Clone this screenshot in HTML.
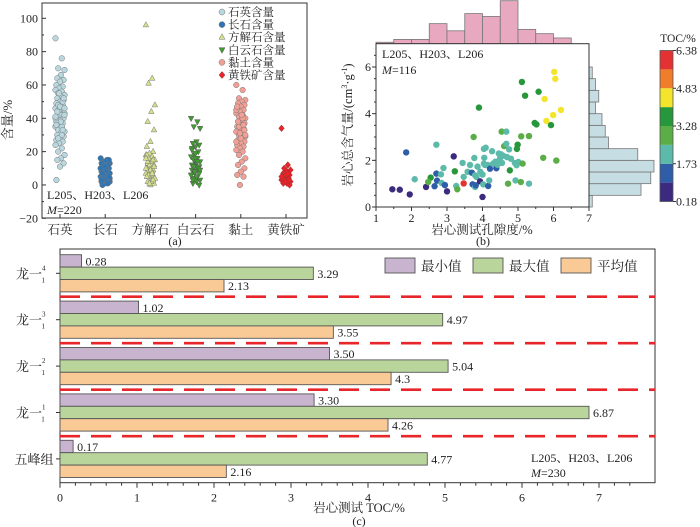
<!DOCTYPE html>
<html><head><meta charset="utf-8"><style>
html,body{margin:0;padding:0;background:#fff;}
svg{display:block;font-family:"Liberation Serif","Noto Serif CJK SC",serif;}
</style></head><body>
<svg id="fig" width="700" height="527" viewBox="0 0 700 527" xmlns="http://www.w3.org/2000/svg">
<g id="pa"></g>
<g id="pb"></g>
<g id="pc"></g>
</svg>
<script>
// ---------- Panel (a) data ----------
const aCategories = ["石英","长石","方解石","白云石","黏土","黄铁矿"];
const aLegend = ["石英含量","长石含量","方解石含量","白云石含量","黏土含量","黄铁矿含量"];
const aQuartz = [88,76,70,69,66,64,63,62,60,59,58,57,56,55,54,53,52,51,50,49,48,47,46,45,44,43,42,41,40,39,38,37,36,35,34,33,32,31,30,29,28,27,26,25,24,22,20,18,16,15,13,11,3,50,45,40,35,48,42,38,44,52,47,36,33,55,41,30,28,46];
const aFeldspar = [16,15,14,13,12,11,10,9,8,7,6,5,4,3,2,1,0,15,14,13,12,11,10,9,8,7,6,5,4,3,2,1,12,10,8,6,4,9,7,5,11,3];
const aCalcite = [96,64,61,48,44,38,33,26,23,20,19,18,17,16,15,14,13,12,11,10,9,8,7,6,5,4,3,2,1,0,18,15,12,10,8,6,4,2,14,11,9,5,3,1,16,7];
const aDolomite = [40,38,35,34,26,25,24,23,22,20,18,17,16,15,14,13,12,11,10,9,8,7,6,5,4,3,2,1,0,16,12,10,8,6,14,11,9,5,3,7,19,21];
const aClay = [60,57,52,51,50,49,48,47,46,45,44,43,42,41,40,39,38,37,36,35,34,33,32,31,30,29,28,27,26,25,24,23,22,21,20,18,16,14,12,10,8,6,5,0,45,40,35,30,42,38,33,28,47,36,31,26];
const aPyrite = [34,12,10,9,8,7,6,5,5,4,4,3,3,2,2,1,1,0,6,4,3,2,5,7];
const aYTicks = [100,80,60,40,20,0,-20];
// ---------- Panel (b) data ----------
const bPorosity = [1.46,1.67,1.95,1.85,2.09,2.41,2.54,2.47,2.65,2.70,2.70,2.72,2.83,2.85,2.90,2.94,3.00,3.19,3.22,3.26,3.29,3.47,3.44,3.47,3.58,3.65,3.70,3.72,3.75,3.77,3.79,3.79,3.81,3.83,3.86,3.90,3.93,3.94,4.00,4.00,4.02,4.04,4.05,4.04,4.09,4.07,4.15,4.16,4.19,4.21,4.27,4.30,4.36,4.39,4.42,4.46,4.49,4.52,4.54,4.55,4.58,4.61,4.67,4.67,4.69,4.72,4.75,4.77,4.80,4.91,4.93,4.96,4.97,4.99,5.01,5.09,5.08,5.11,5.13,5.20,5.31,5.31,5.47,5.52,5.58,5.71,5.75,5.80,5.93,5.99,6.02,6.05,6.08,6.21];
const bGas = [0.76,0.74,0.54,2.34,1.19,0.86,1.26,1.07,0.89,1.43,2.67,1.13,1.40,1.03,1.67,0.94,0.67,2.17,1.53,0.90,0.76,1.01,1.89,1.29,1.51,1.80,1.47,0.97,3.00,2.10,0.86,1.36,0.93,1.29,1.73,4.26,1.10,1.51,0.43,1.39,0.97,1.86,2.11,2.49,2.54,1.80,1.80,0.90,1.14,1.64,2.39,1.86,1.94,1.66,1.81,2.29,2.06,2.26,3.23,1.89,2.20,2.61,3.23,2.71,2.14,1.00,2.47,1.57,2.07,1.89,1.14,1.79,2.49,2.67,1.93,3.03,1.07,5.36,1.86,4.77,3.04,1.00,3.60,3.54,4.94,2.11,4.63,3.69,3.51,3.94,5.79,5.49,1.99,4.16];
const bToc = [0.5,0.5,0.5,1.3,2.1,0.5,3.6,2.9,1.3,1.3,2.1,1.3,2.1,2.1,2.1,1.3,0.5,0.5,3.6,2.1,2.9,6.0,2.1,2.1,2.1,2.1,1.3,1.3,2.9,2.1,2.1,2.1,1.3,2.1,2.1,3.6,0.5,2.1,0.5,2.1,2.1,2.1,2.1,2.1,2.1,2.1,2.1,1.3,2.1,1.3,2.1,2.1,2.1,1.3,2.1,2.1,2.1,2.1,2.9,2.1,2.1,2.9,2.1,2.1,2.1,2.9,2.1,3.6,2.1,2.1,2.1,2.1,3.6,3.6,2.1,2.9,2.9,3.6,2.9,3.6,2.9,2.1,3.6,3.6,3.6,2.9,4.5,4.5,3.6,4.5,4.5,4.5,2.9,4.5];
const bTopCounts = [1,3,3,14,9,21,19,30,10,7,4];
const bRightCounts = [1,16,19,20,15,6,5,4,2,3,2,1];
const bXTicks = [1,2,3,4,5,6,7];
const bYTicks = [0,2,4,6];
const bCbarTicks = ["0.18","1.73","3.28","4.83","6.38"];
// ---------- Panel (c) data ----------
const cGroups = ["龙一|4","龙一|3","龙一|2","龙一|1","五峰组"];
const cMin = [0.28,1.02,3.50,3.30,0.17];
const cMax = [3.29,4.97,5.04,6.87,4.77];
const cAvg = [2.13,3.55,4.3,4.26,2.16];
const cMinLbl = ["0.28","1.02","3.50","3.30","0.17"];
const cMaxLbl = ["3.29","4.97","5.04","6.87","4.77"];
const cAvgLbl = ["2.13","3.55","4.3","4.26","2.16"];
const cXTicks = [0,1,2,3,4,5,6,7];
const cSeries = ["最小值","最大值","平均值"];

const NS="http://www.w3.org/2000/svg";
function mk(parent,tag,attrs,text){const e=document.createElementNS(NS,tag);for(const k in attrs)e.setAttribute(k,attrs[k]);if(text!==undefined)e.textContent=text;parent.appendChild(e);return e;}

// ================= Panel A =================
(function(){
const g=document.getElementById('pa');
const L=42,T=3,R=307,B=218;
const yA=v=>18.3+(100-v)*(200/120);
const xA=i=>60+i*45.2;
let f=mk(g,'rect',{x:L,y:T,width:R-L,height:B-T,fill:'none',stroke:'#333','stroke-width':1});

aYTicks.forEach(v=>{
 let t=mk(g,'line',{x1:L,x2:L+4,y1:yA(v),y2:yA(v),stroke:'#333'});
 
 let tx=mk(g,'text',{x:L-4,y:yA(v)+4,'text-anchor':'end','font-size':12,fill:'#222'},v<0?'−'+(-v):String(v));
 
});
for(let v=-10;v<100;v+=20){let t=mk(g,'line',{x1:L,x2:L+2,y1:yA(v),y2:yA(v),stroke:'#333'});}
let yt=mk(g,'text',{x:12,y:120,'text-anchor':'middle','font-size':13,fill:'#222',transform:'rotate(-90 12 120)'},'含量/%');

aCategories.forEach((c,i)=>{
 let t=mk(g,'line',{x1:xA(i),x2:xA(i),y1:B,y2:B-4,stroke:'#333'});
 let tx=mk(g,'text',{x:xA(i),y:234,'text-anchor':'middle','font-size':12.5,fill:'#222'},c);
 
});
const sets=[aQuartz,aFeldspar,aCalcite,aDolomite,aClay,aPyrite];
const fills=['#b9d7df','#2e75b6','#d4df8a','#3f9e2e','#f2a095','#e8242a'];
const shapes=['c','c','tu','td','c','d'];
function marker(par,shape,x,y,fill,r){
 let e;
 if(shape==='c')e=mk(par,'circle',{cx:x,cy:y,r:r,fill:fill,stroke:'#777','stroke-width':0.5});
 else if(shape==='tu')e=mk(par,'polygon',{points:`${x},${y-r-0.5} ${x-r},${y+r*0.7} ${x+r},${y+r*0.7}`,fill:fill,stroke:'#777','stroke-width':0.5});
 else if(shape==='td')e=mk(par,'polygon',{points:`${x},${y+r+0.5} ${x-r},${y-r*0.7} ${x+r},${y-r*0.7}`,fill:fill,stroke:'#555','stroke-width':0.5});
 else e=mk(par,'polygon',{points:`${x},${y-r-0.5} ${x+r},${y} ${x},${y+r+0.5} ${x-r},${y}`,fill:fill,stroke:'#933','stroke-width':0.5});
 return e;
}
sets.forEach((arr,si)=>{
 const sg=mk(g,'g',{});
 arr.forEach((v,i)=>{
  const jit=((i*7)%11-5)*0.9;
  let m=marker(sg,shapes[si],xA(si)+jit,yA(v),fills[si],2.8);
  
 });
});
aLegend.forEach((s,i)=>{
 const y=12+i*12.6;
 const lg=mk(g,'g',{});
 marker(lg,shapes[i],222,y,fills[i],3);
 mk(lg,'text',{x:228,y:y+4,'font-size':11.5,fill:'#222'},s);
});
let an1=mk(g,'text',{x:47,y:199,'font-size':12,fill:'#222'},'L205、H203、L206');
let an2=mk(g,'text',{x:47,y:214,'font-size':12,fill:'#222'});
mk(an2,'tspan',{'font-style':'italic'},'M');mk(an2,'tspan',{},'=220');
let pl=mk(g,'text',{x:175,y:245,'text-anchor':'middle','font-size':12,fill:'#222'},'(a)');
})();

// ================= Panel B =================
(function(){
const g=document.getElementById('pb');
const L=376,R=589,T=43.7,B=207;
const xB=v=>L+(v-1)*(R-L)/6;
const yB=v=>B-v*(140/6);
const tpx=43/30;
bTopCounts.forEach((c,i)=>{
 const x0=xB(1+i*0.5),x1=xB(1.5+i*0.5);
 let r=mk(g,'rect',{x:x0,y:T-c*tpx,width:x1-x0,height:c*tpx,fill:'#e8a8c0',stroke:'#777','stroke-width':0.8});
 
});
const rpx=65/20;
bRightCounts.forEach((c,i)=>{
 const y0=yB(0.5+i*0.5),y1=yB(i*0.5);
 let r=mk(g,'rect',{x:R,y:y0,width:c*rpx,height:y1-y0,fill:'#c5dde3',stroke:'#777','stroke-width':0.8});
 
});
let f=mk(g,'rect',{x:L,y:T,width:R-L,height:B-T,fill:'#fff',stroke:'#333','stroke-width':1});

bXTicks.forEach(v=>{
 let t=mk(g,'line',{x1:xB(v),x2:xB(v),y1:B,y2:B+4,stroke:'#333'});
 let tx=mk(g,'text',{x:xB(v),y:B+15,'text-anchor':'middle','font-size':12,fill:'#222'},String(v));
 
});
for(let v=1.5;v<7;v+=1){let t=mk(g,'line',{x1:xB(v),x2:xB(v),y1:B,y2:B+2,stroke:'#333'});}
bYTicks.forEach(v=>{
 let t=mk(g,'line',{x1:L,x2:L-4,y1:yB(v),y2:yB(v),stroke:'#333'});
 let tx=mk(g,'text',{x:L-5,y:yB(v)+4,'text-anchor':'end','font-size':12,fill:'#222'},String(v));
 
});
for(let v=0.5;v<7;v+=0.5){if(v%2===0)continue;let t=mk(g,'line',{x1:L,x2:L-2,y1:yB(v),y2:yB(v),stroke:'#333'});}
const bandCols=['#3b2a7e','#2f5da8','#5bbaa9','#5aad47','#26973a','#f4e52c','#f07d2a','#e43232'];
const col=t=>bandCols[Math.max(0,Math.min(7,Math.floor((t-0.18)/((6.38-0.18)/8))))];
bPorosity.forEach((x,i)=>{
 let c=mk(g,'circle',{cx:xB(x),cy:yB(bGas[i]),r:3.2,fill:col(bToc[i])});
 
});
let yt=mk(g,'text',{x:352,y:125,'text-anchor':'middle','font-size':12.5,fill:'#222',transform:'rotate(-90 352 125)'});

mk(yt,'tspan',{},'岩心总含气量/(cm');mk(yt,'tspan',{'font-size':8,dy:-5},'3');mk(yt,'tspan',{dy:5},'·g');mk(yt,'tspan',{'font-size':8,dy:-5},'-1');mk(yt,'tspan',{dy:5},')');
let xt=mk(g,'text',{x:482,y:234,'text-anchor':'middle','font-size':12.5,fill:'#222'},'岩心测试孔隙度/%');

let an1=mk(g,'text',{x:382,y:58,'font-size':12,fill:'#222'},'L205、H203、L206');
let an2=mk(g,'text',{x:382,y:74,'font-size':12,fill:'#222'});
mk(an2,'tspan',{'font-style':'italic'},'M');mk(an2,'tspan',{},'=116');
const cb=mk(g,'g',{});
const cT=50.5,cB=201.5,cL=660,cW=13;
bandCols.forEach((c,i)=>{mk(cb,'rect',{x:cL,y:cB-(i+1)*(cB-cT)/8,width:cW,height:(cB-cT)/8,fill:c});});
mk(cb,'rect',{x:cL,y:cT,width:cW,height:cB-cT,fill:'none',stroke:'#555','stroke-width':0.8});
bCbarTicks.forEach((s,i)=>{
 const y=cB-i*(cB-cT)/4;
 mk(cb,'line',{x1:cL+cW,x2:cL+cW+3,y1:y,y2:y,stroke:'#333'});
 let tx=mk(cb,'text',{x:cL+cW+3,y:y+4,'font-size':12,fill:'#222'},s);
 
});
let ct=mk(g,'text',{x:678,y:42,'text-anchor':'middle','font-size':11.5,fill:'#222'},'TOC/%');
let pl=mk(g,'text',{x:483,y:245,'text-anchor':'middle','font-size':12,fill:'#222'},'(b)');
})();

// ================= Panel C =================
(function(){
const g=document.getElementById('pc');
const L=60,R=655,T=249,B=482.7;
const xC=v=>L+v*77;
const barH=12.4, gTop=i=>254.7+i*46.4;
let f=mk(g,'rect',{x:L,y:T,width:R-L,height:B-T,fill:'none',stroke:'#333','stroke-width':1});

const fills=['#c9b4cf','#bad59c','#f9c996'];
const vals=[cMin,cMax,cAvg],lbls=[cMinLbl,cMaxLbl,cAvgLbl];
cGroups.forEach((gname,i)=>{
 for(let s=0;s<3;s++){
  const y=gTop(i)+s*barH;
  let r=mk(g,'rect',{x:L,y:y,width:xC(vals[s][i])-L,height:barH,fill:fills[s],stroke:'#555','stroke-width':0.9});
  
  let t=mk(g,'text',{x:xC(vals[s][i])+4,y:y+barH/2+4.5,'font-size':12,fill:'#222'},lbls[s][i]);
  
 }
 const yc=gTop(i)+barH*1.5;
 let tk=mk(g,'line',{x1:L,x2:L-4,y1:yc,y2:yc,stroke:'#333'});
 const parts=gname.split('|');
 let lt=mk(g,'text',{x:34,y:yc+5,'text-anchor':'middle','font-size':13,fill:'#222'});
 
 if(parts.length>1){
  lt.setAttribute('x',16);lt.setAttribute('text-anchor','start');
  mk(lt,'tspan',{},parts[0]);
  mk(lt,'tspan',{'font-size':7,dy:-8},parts[1]);
  mk(lt,'tspan',{'font-size':7,dx:-4,dy:12},'1');
 } else lt.textContent=gname;
 if(i<4){
  let d=mk(g,'line',{x1:L,x2:R,y1:296.7+i*46.5,y2:296.7+i*46.5,stroke:'#e8262a','stroke-width':2.6,'stroke-dasharray':'20 11'});
  
 }
});
cXTicks.forEach(v=>{
 let t=mk(g,'line',{x1:xC(v),x2:xC(v),y1:B,y2:B+5,stroke:'#333'});
 let tx=mk(g,'text',{x:xC(v),y:B+19,'text-anchor':'middle','font-size':12,fill:'#222'},String(v));
 
});
for(let v=0.2;v<7.6;v+=0.2){if(Math.abs(v-Math.round(v))<0.01)continue;let t=mk(g,'line',{x1:xC(v),x2:xC(v),y1:B,y2:B+3,stroke:'#333'});}
let xt=mk(g,'text',{x:359,y:512,'text-anchor':'middle','font-size':12.5,fill:'#222'},'岩心测试 TOC/%');
let pl=mk(g,'text',{x:359,y:525,'text-anchor':'middle','font-size':12,fill:'#222'},'(c)');
const lx=[385,473,561];
cSeries.forEach((s,i)=>{
 const lg=mk(g,'g',{});
 mk(lg,'rect',{x:lx[i],y:258,width:30,height:15,fill:fills[i],stroke:'#555','stroke-width':0.9});
 mk(lg,'text',{x:lx[i]+36,y:271,'font-size':13.5,fill:'#222'},s);
});
let an1=mk(g,'text',{x:531,y:462,'font-size':12,fill:'#222'},'L205、H203、L206');
let an2=mk(g,'text',{x:531,y:477,'font-size':12,fill:'#222'});
mk(an2,'tspan',{'font-style':'italic'},'M');mk(an2,'tspan',{},'=230');
})();
</script>
</body></html>
